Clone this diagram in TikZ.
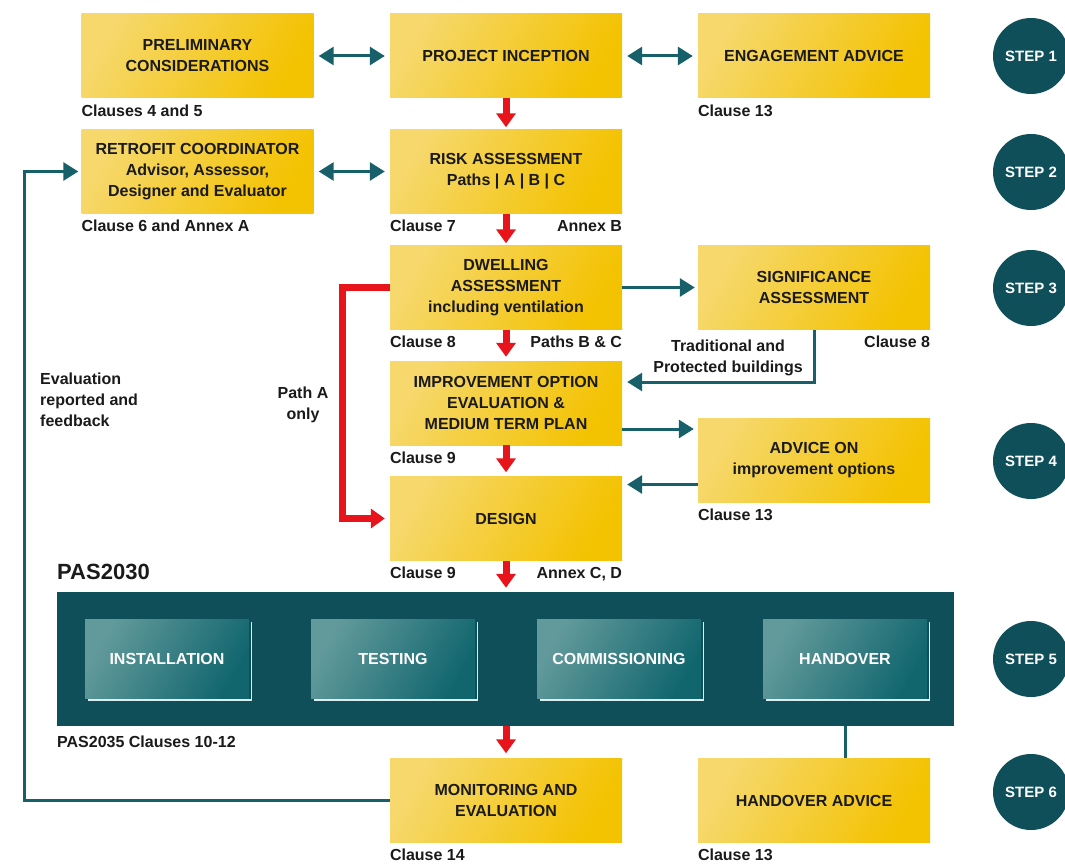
\documentclass[tikz,border=0pt]{standalone}
\usepackage{fontspec}
\setmainfont{Liberation Sans}
\usepackage{tikz}
\usetikzlibrary{arrows.meta,calc}
\definecolor{ylight}{HTML}{F6D86C}
\definecolor{ydark}{HTML}{F3C200}
\definecolor{tealdark}{HTML}{0E4F5A}
\definecolor{tealarrow}{HTML}{17606A}
\definecolor{teallight}{HTML}{629A9B}
\definecolor{tealmid}{HTML}{11666E}
\definecolor{tealedge}{HTML}{D8EEF0}
\definecolor{redarrow}{HTML}{E8141B}
\definecolor{boxtext}{HTML}{1A1A1A}

\begin{document}
\begin{tikzpicture}[x=1pt,y=-1pt,
  ybox/.style={shade,left color=ylight,right color=ydark,shading angle=60,
    minimum width=232pt,minimum height=84pt,inner sep=0pt,align=center,
    text=boxtext,font=\bfseries\fontsize{16}{21}\selectfont},
  clause/.style={inner sep=0pt,text=boxtext,font=\bfseries\fontsize{16}{21}\selectfont},
  tbox/.style={shade,left color=teallight,right color=tealmid,shading angle=60,
    minimum width=164pt,minimum height=79pt,inner sep=0pt,text=white,
    font=\bfseries\fontsize{16}{21}\selectfont},
  stepc/.style={circle,fill=tealdark,minimum size=76pt,inner sep=0pt,text=white,
    font=\bfseries\fontsize{15}{18}\selectfont},
  tarr/.style={draw=tealarrow,line width=3pt,-{Triangle[length=15pt,width=18pt]}},
  tdbl/.style={draw=tealarrow,line width=3pt,
    {Triangle[length=15pt,width=18pt]}-{Triangle[length=15pt,width=18pt]}},
  rarr/.style={draw=redarrow,line width=7pt,-{Triangle[length=14pt,width=19pt]}},
  tline/.style={draw=tealarrow,line width=3pt}]
\useasboundingbox (0,0) rectangle (1065,864);

\node[ybox] (prelim) at (197.5,56) {PRELIMINARY\\CONSIDERATIONS};
\node[ybox] (incep) at (506,56) {PROJECT INCEPTION};
\node[ybox] (engage) at (814,56) {ENGAGEMENT ADVICE};
\node[ybox] (retro) at (197.5,171.5) {RETROFIT COORDINATOR\\Advisor, Assessor,\\Designer and Evaluator};
\node[ybox] (risk) at (506,171.5) {RISK ASSESSMENT\\Paths | A | B | C};
\node[ybox] (dwell) at (506,287.5) {DWELLING\\ASSESSMENT\\including ventilation};
\node[ybox] (signif) at (814,287.5) {SIGNIFICANCE\\ASSESSMENT};
\node[ybox] (improve) at (506,403) {IMPROVEMENT OPTION\\EVALUATION \&\\MEDIUM TERM PLAN};
\node[ybox] (advice) at (814,460.5) {ADVICE ON\\improvement options};
\node[ybox] (design) at (506,518.5) {DESIGN};
\node[ybox] (monitor) at (506,800.5) {MONITORING AND\\EVALUATION};
\node[ybox] (hadvice) at (814,800.5) {HANDOVER ADVICE};

\node[clause,anchor=base west] (cprelim) at ([yshift=-18pt]prelim.south west) {Clauses 4 and 5};
\node[clause,anchor=base west] (cengage) at ([yshift=-18pt]engage.south west) {Clause 13};
\node[clause,anchor=base west] (cretro) at ([yshift=-18pt]retro.south west) {Clause 6 and Annex A};
\node[clause,anchor=base west] (crisk) at ([yshift=-18pt]risk.south west) {Clause 7};
\node[clause,anchor=base east] (arisk) at ([yshift=-18pt]risk.south east) {Annex B};
\node[clause,anchor=base west] (cdwell) at ([yshift=-18pt]dwell.south west) {Clause 8};
\node[clause,anchor=base east] (pdwell) at ([yshift=-18pt]dwell.south east) {Paths B \& C};
\node[clause,anchor=base east] (csignif) at ([yshift=-18pt]signif.south east) {Clause 8};
\node[clause,anchor=base west] (cimprove) at ([yshift=-18pt]improve.south west) {Clause 9};
\node[clause,anchor=base west] (cadvice) at ([yshift=-18pt]advice.south west) {Clause 13};
\node[clause,anchor=base west] (cdesign) at ([yshift=-18pt]design.south west) {Clause 9};
\node[clause,anchor=base east] (adesign) at ([yshift=-18pt]design.south east) {Annex C, D};
\node[clause,anchor=base west] (cmonitor) at ([yshift=-18pt]monitor.south west) {Clause 14};
\node[clause,anchor=base west] (chadvice) at ([yshift=-18pt]hadvice.south west) {Clause 13};

\node[clause,align=center] (trad) at (728,357.5) {Traditional and\\Protected buildings};
\node[clause,align=center] (patha) at (303,404.5) {Path A\\only};
\node[clause,align=left,anchor=west] (evalfb) at (40,399.5) {Evaluation\\reported and\\feedback};

\node[clause,anchor=west,font=\bfseries\fontsize{22}{26}\selectfont] (pas30) at (57,572) {PAS2030};
\node[fill=tealdark,minimum width=897pt,minimum height=134pt,inner sep=0pt] (band) at (505.5,659) {};
\node[tbox] (install) at (167,658.5) {INSTALLATION};
\node[tbox] (testing) at (393,658.5) {TESTING};
\node[tbox] (commis) at (619,658.5) {COMMISSIONING};
\node[tbox] (hand) at (845,658.5) {HANDOVER};
\foreach \b in {install,testing,commis,hand}
  \draw[tealedge,line width=1.5pt] ([shift={(2.5pt,-3pt)}]\b.north east) -- ([shift={(2.5pt,-2pt)}]\b.south east) -- ([shift={(3pt,-2pt)}]\b.south west);
\node[clause,anchor=west] (pas35) at (57,742) {PAS2035 Clauses 10-12};

\foreach \n/\y in {1/56,2/172,3/288,4/461,5/659,6/792}
  \node[stepc] (step\n) at (1031,\y) {STEP \n};

\draw[tdbl,shorten <=5pt,shorten >=5pt] (prelim) -- (incep);
\draw[tdbl,shorten <=5pt,shorten >=5pt] (incep) -- (engage);
\draw[tdbl,shorten <=5pt,shorten >=5pt] (retro) -- (risk);

\draw[rarr,shorten >=2pt] (incep) -- (risk);
\draw[rarr,shorten >=2pt] (risk) -- (dwell);
\draw[rarr,shorten >=4pt] (dwell) -- (improve);
\draw[rarr,shorten >=4pt] (improve) -- (design);
\draw[rarr,shorten >=4pt] (design) -- (design |- band.north);
\draw[rarr,shorten >=5pt] (monitor |- band.south) -- (monitor);
\draw[rarr,shorten >=5pt] (dwell.west) -- ++(-47,0) |- (design.west);

\coordinate (sa1) at ([yshift=21pt]improve.east);
\coordinate (io1) at ([yshift=-26pt]improve.east);
\coordinate (ad1) at ([yshift=-24pt]advice.west);
\coordinate (fb) at (24,0);
\draw[tarr,shorten >=3pt] (dwell) -- (signif);
\draw[tarr,shorten >=5pt] (signif.south) |- (sa1);
\draw[tarr,shorten >=4pt] (io1) -- (io1 -| advice.west);
\draw[tarr,shorten >=5pt] (ad1) -- (ad1 -| design.east);
\draw[tarr,shorten >=3pt] (monitor.west) -- (monitor.west -| fb) |- (retro.west);
\draw[tline] (hand.south |- band.south) -- (hand.south |- hadvice.north);
\end{tikzpicture}
\end{document}
